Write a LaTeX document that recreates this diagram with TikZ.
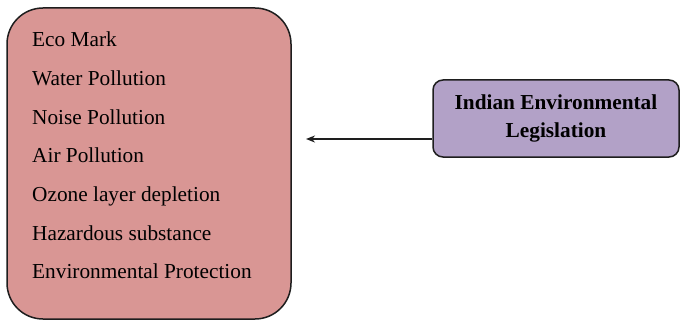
\documentclass[tikz,border=0pt]{standalone}
\usepackage{fontspec}
\setmainfont{Liberation Serif}
\usetikzlibrary{arrows.meta}
\definecolor{rosefill}{HTML}{D99694}
\definecolor{lilacfill}{HTML}{B2A1C7}
\definecolor{edgegray}{HTML}{1E1E1E}
\tikzset{
  listbox/.style={draw=edgegray, line width=1.5pt, fill=rosefill, rounded corners=36pt,
    minimum width=284pt, minimum height=311pt, inner sep=0pt},
  lawbox/.style={draw=edgegray, line width=1.5pt, fill=lilacfill, rounded corners=10pt,
    minimum width=246pt, minimum height=77pt, align=center, inner sep=0pt,
    font=\fontsize{21.3}{28.3}\selectfont\bfseries},
  item/.style={anchor=base west, inner sep=0pt, font=\fontsize{21.3}{25}\selectfont},
}
\begin{document}
\begin{tikzpicture}[x=1pt, y=1pt, >={Stealth[length=9pt, width=7pt]}]
    \useasboundingbox (0,0) rectangle (680,322);

    % Gesetze (links)
    \node[listbox] (acts) at (149,158.5) {};
    \node[item] (eco)   at (32,275.3) {Eco Mark};
    \node[item] (water) at (32,236.6) {Water Pollution};
    \node[item] (noise) at (32,197.9) {Noise Pollution};
    \node[item] (air)   at (32,159.2) {Air Pollution};
    \node[item] (ozone) at (32,120.5) {Ozone layer depletion};
    \node[item] (hazard) at (32,81.8) {Hazardous substance};
    \node[item] (envprot) at (32,43.1) {Environmental Protection};

    % Gesetzgebung (rechts)
    \node[lawbox] (legis) at (556,203.5) {Indian Environmental\\Legislation};

    % Pfeil
    \coordinate (tip) at (306,183);
    \draw[->, line width=1.5pt, edgegray] (legis.west |- tip) -- (tip);
\end{tikzpicture}
\end{document}
